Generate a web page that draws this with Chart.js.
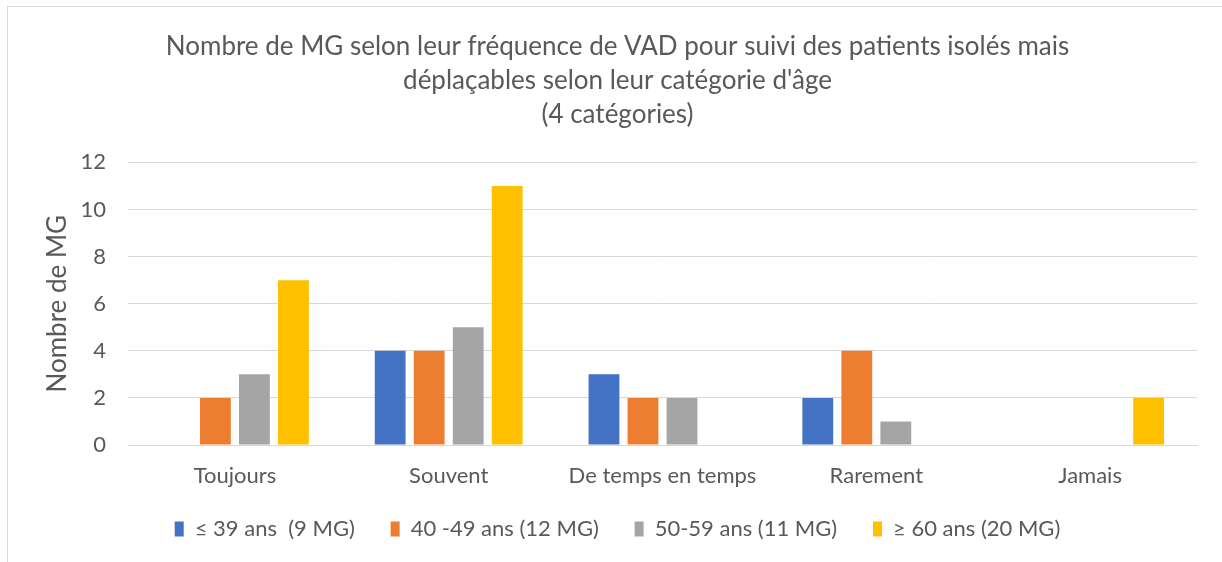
<!DOCTYPE html>
<html><head><meta charset="utf-8">
<script src="https://cdn.jsdelivr.net/npm/chart.js@4"></script>
<style>
html,body{margin:0;padding:0;background:#fff;}
#wrap{position:absolute;left:0;top:0;width:1222px;height:562px;overflow:hidden;}
#frame{position:absolute;left:7px;top:6px;width:1230px;height:600px;border:1.5px solid #d9d9d9;box-sizing:border-box;pointer-events:none;}
canvas{position:absolute;left:0;top:0;}
</style></head>
<body>
<div id="wrap"><canvas id="c" width="1222" height="562"></canvas><div id="frame"></div></div>
<script>
const categories = ["Toujours","Souvent","De temps en temps","Rarement","Jamais"];
const seriesNames = ["≤ 39 ans  (9 MG)","40 -49 ans (12 MG)","50-59 ans (11 MG)","≥ 60 ans (20 MG)"];
const s39 = [0,4,3,2,0];
const s40_49 = [2,4,2,4,0];
const s50_59 = [3,5,2,1,0];
const s60 = [7,11,0,0,2];
const colors = ["#4472C4","#ED7D31","#A5A5A5","#FFC000"];
const yTicks = [0,2,4,6,8,10,12];
const titleLines = ["Nombre de MG selon leur fréquence de VAD pour suivi des patients isolés mais","déplaçables selon leur catégorie d'âge","(4 catégories)"];
const yTitle = "Nombre de MG";

const FONT = "Lato";
const data = {
  labels: categories,
  datasets: [s39,s40_49,s50_59,s60].map((d,i)=>({
    label: seriesNames[i], data: d, backgroundColor: colors[i],
    categoryPercentage: 0.73, barPercentage: 0.79
  }))
};
new Chart(document.getElementById('c'), {
  type: 'bar',
  data,
  options: {
    responsive: false, animation: false,
    layout: {padding: {left: 38, right: 25, top: 22, bottom: 12}},
    plugins: {
      title: {display: true, text: titleLines, color: '#595959',
        font: {family: FONT, size: 26, weight: 'normal', lineHeight: 1.3}, padding: {top: 8, bottom: 31}},
      legend: {position: 'bottom', labels: {color: '#595959', boxWidth: 9, boxHeight: 15,
        font: {family: FONT, size: 22}, padding: 22,
        generateLabels: ch => Chart.defaults.plugins.legend.labels.generateLabels(ch).map((l,i,a)=>{ if(i<a.length-1) l.text = l.text + '\u2002\u2009'; return l; })
      }},
      tooltip: {enabled: false}
    },
    scales: {
      x: {grid: {display: false}, border: {color: '#d9d9d9'},
        ticks: {color: '#595959', font: {family: FONT, size: 22}, padding: 10},
        afterFit: s => { s.height = 51; }},
      y: {min: 0, max: 12, afterBuildTicks: s => { s.ticks = yTicks.map(v=>({value:v})); },
        grid: {color: '#d9d9d9', drawTicks: false}, border: {display: false},
        ticks: {color: '#595959', font: {family: FONT, size: 22}, padding: 22},
        title: {display: true, text: yTitle, color: '#595959', font: {family: FONT, size: 26}, padding: 4},
        afterFit: s => { s.width = 90; }
      }
    }
  }
});
</script>
</body></html>
